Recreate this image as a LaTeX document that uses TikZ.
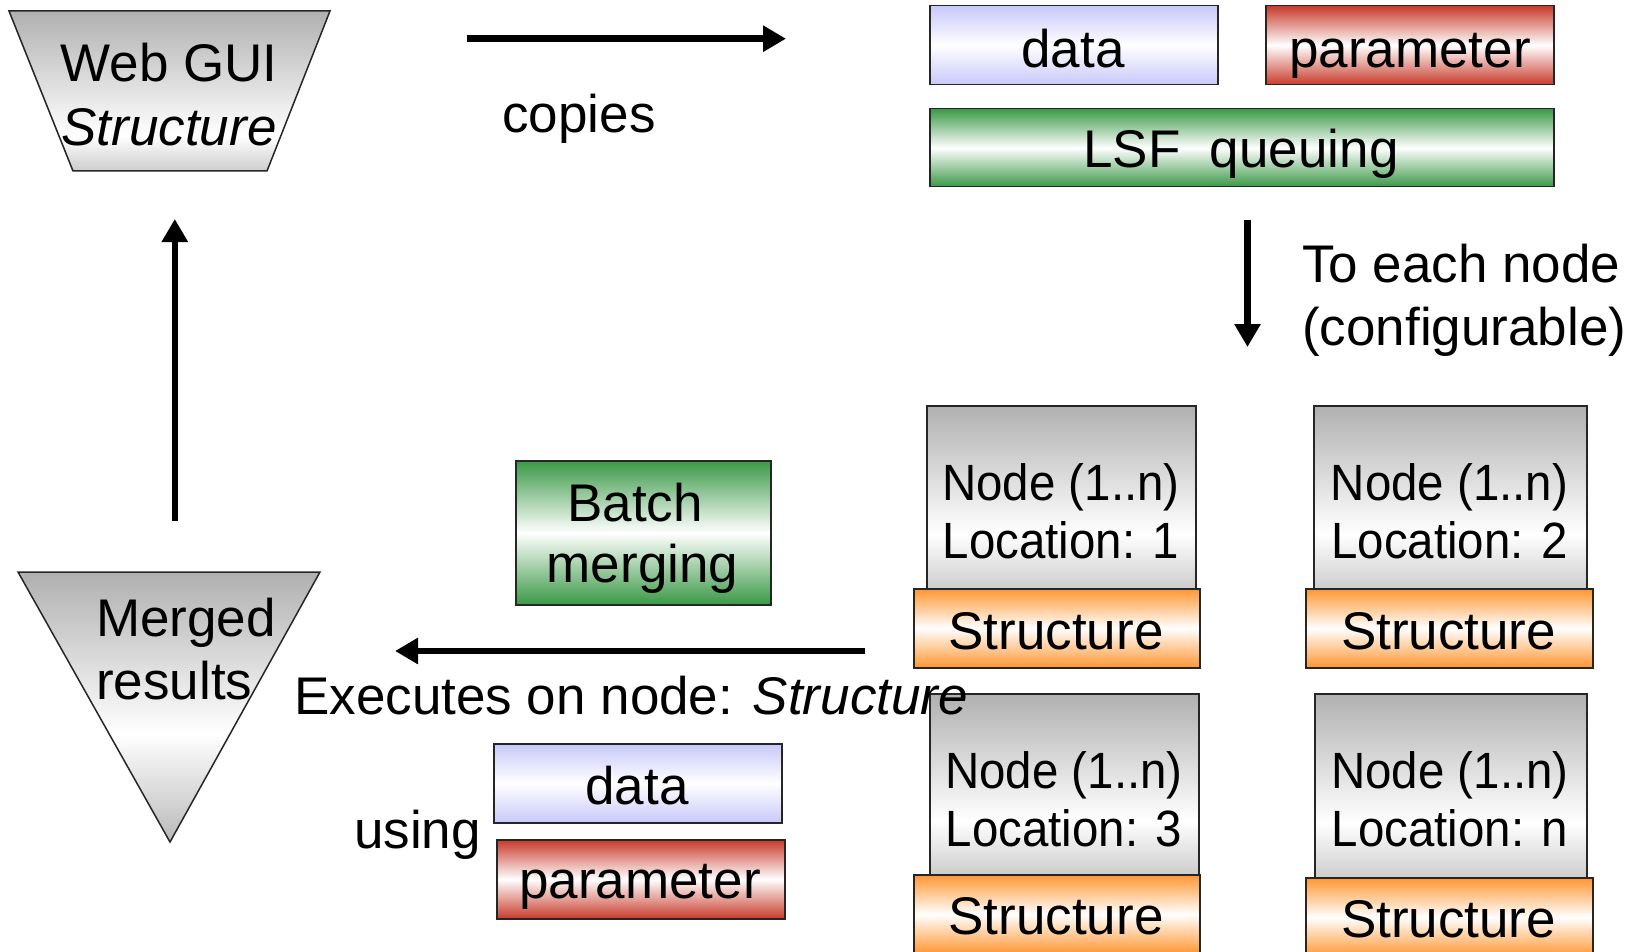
\documentclass[tikz,border=0pt]{standalone}
\usepackage{fontspec}
\usepackage{graphicx}
\setmainfont{Liberation Sans}
\usetikzlibrary{arrows.meta}
\definecolor{lav}{RGB}{200,200,250}
\definecolor{redc}{RGB}{200,58,42}
\definecolor{grn}{RGB}{58,152,70}
\definecolor{org}{RGB}{255,150,50}
\definecolor{gtop}{RGB}{176,176,176}
\definecolor{gbot}{RGB}{205,205,205}
\definecolor{gapex}{RGB}{185,185,185}
\pgfdeclareverticalshading{nodeshade}{100bp}{color(0bp)=(gbot); color(25bp)=(gbot); color(40bp)=(white); color(75bp)=(gtop); color(100bp)=(gtop)}
\pgfdeclareverticalshading{guishade}{100bp}{color(0bp)=(gbot); color(25bp)=(gbot); color(36bp)=(white); color(75bp)=(gtop); color(100bp)=(gtop)}
\pgfdeclareverticalshading{mergeshade}{100bp}{color(0bp)=(gapex); color(25bp)=(gapex); color(45bp)=(white); color(75bp)=(gtop); color(100bp)=(gtop)}
\tikzset{
  bx/.style={draw=black!85, line width=1.5pt, inner sep=0pt, anchor=north west},
  colbox/.style={bx, top color=#1, bottom color=#1, middle color=white},
  graybox/.style={bx, shading=nodeshade, shade},
  txt/.style={inner sep=0pt, anchor=base, font=\fontsize{53}{63}\selectfont},
  ltxt/.style={txt, anchor=base west},
  ntxt/.style={inner sep=0pt, anchor=base, font=\fontsize{51}{58}\selectfont},
  arr/.style={line width=6.5pt, -{Triangle[length=23pt,width=25pt]}},
}
\newcommand{\nsq}[1]{\scalebox{0.93}[1]{#1}}
\begin{document}
\begin{tikzpicture}[x=1pt,y=1pt]
\useasboundingbox (0,0) rectangle (1641,-952);
\clip (0,0) rectangle (1641,-952);

% Web GUI trapezoid
\path[draw=black!85, line width=1.5pt, shading=guishade, shade]
  (9,-11) -- (330,-11) -- (267,-171) -- (73,-171) -- cycle;
\node[txt] (gui1) at (169,-81.6) {Web GUI};
\node[txt] (gui2) at (169,-145.5) {\itshape Structure};

% Merged results triangle
\path[draw=black!85, line width=1.5pt, shading=mergeshade, shade]
  (18,-572) -- (320,-572) -- (170,-842) -- cycle;
\node[ltxt] (mr1) at (96,-636) {Merged};
\node[ltxt] (mr2) at (96,-699) {results};

% top boxes
\node[colbox=lav, minimum width=288pt, minimum height=79pt] (dataT) at (929,-5) {};
\node[colbox=redc, minimum width=288pt, minimum height=79pt] (paramT) at (1265,-5) {};
\node[colbox=grn, minimum width=624pt, minimum height=78pt] (lsf) at (929,-108) {};
\node[txt] (dataTt) at (1073,-68) {data};
\node[txt] (paramTt) at (1410,-68) {parameter};
\node[txt] (lsft) at (1241,-167.5) {LSF\ \ queuing};

% node boxes
\node[graybox, minimum width=269pt, minimum height=183pt] (n1) at (926,-405) {};
\node[colbox=org, minimum width=286pt, minimum height=79pt] (s1) at (913,-588) {};
\node[graybox, minimum width=273pt, minimum height=183pt] (n2) at (1313,-405) {};
\node[colbox=org, minimum width=287pt, minimum height=79pt] (s2) at (1305,-588) {};
\node[graybox, minimum width=269pt, minimum height=181pt] (n3) at (929,-693) {};
\node[colbox=org, minimum width=286pt, minimum height=79pt] (s3) at (913,-874) {};
\node[graybox, minimum width=272pt, minimum height=184pt] (nn) at (1314,-693) {};
\node[colbox=org, minimum width=287pt, minimum height=79pt] (sn) at (1305,-877) {};

\node[ntxt] (n1a) at (1061,-500) {\nsq{Node (1..n)}};
\node[ntxt] (n1b) at (1061,-558) {\nsq{Location: 1}};
\node[txt] (s1t) at (1056,-649) {Structure};
\node[ntxt] (n2a) at (1449.5,-500) {\nsq{Node (1..n)}};
\node[ntxt] (n2b) at (1449.5,-558) {\nsq{Location: 2}};
\node[txt] (s2t) at (1448.5,-649) {Structure};
\node[ntxt] (n3a) at (1064,-788) {\nsq{Node (1..n)}};
\node[ntxt] (n3b) at (1064,-846) {\nsq{Location: 3}};
\node[txt] (s3t) at (1056,-934) {Structure};
\node[ntxt] (nna) at (1450,-788) {\nsq{Node (1..n)}};
\node[ntxt] (nnb) at (1450,-846) {\nsq{Location: n}};
\node[txt] (snt) at (1448.5,-937) {Structure};

% batch merging
\node[colbox=grn, minimum width=255pt, minimum height=144pt] (batch) at (515,-460) {};
\node[txt] (batch1) at (635,-521) {Batch};
\node[txt] (batch2) at (642.5,-582) {merging};

% bottom data/parameter
\node[colbox=lav, minimum width=288pt, minimum height=79pt] (dataB) at (493,-743) {};
\node[colbox=redc, minimum width=288pt, minimum height=79pt] (paramB) at (496,-839) {};
\node[txt] (dataBt) at (637,-804) {data};
\node[txt] (paramBt) at (640,-898) {parameter};
\node[ltxt] (using) at (354,-848) {using};

% labels
\node[txt] (copies) at (579,-133) {copies};
\node[ltxt] (each1) at (1302,-282) {To each node};
\node[ltxt] (each2) at (1302,-345) {(configurable)};
\node[ltxt] (exec) at (294,-714) {Executes on node: \textit{Structure}};

% arrows
\coordinate (c1) at (467,-38.7);
\coordinate (c2) at (786,-38.7);
\coordinate (d1) at (1247.5,-220);
\coordinate (d2) at (1247.5,-347);
\coordinate (l1) at (864.5,-651);
\coordinate (l2) at (395,-651);
\coordinate (u1) at (174.8,-521);
\coordinate (u2) at (174.8,-219);
\draw[arr] (c1) -- (c2);
\draw[arr] (d1) -- (d2);
\draw[arr] (l1) -- (l2);
\draw[arr] (u1) -- (u2);
\end{tikzpicture}
\end{document}
